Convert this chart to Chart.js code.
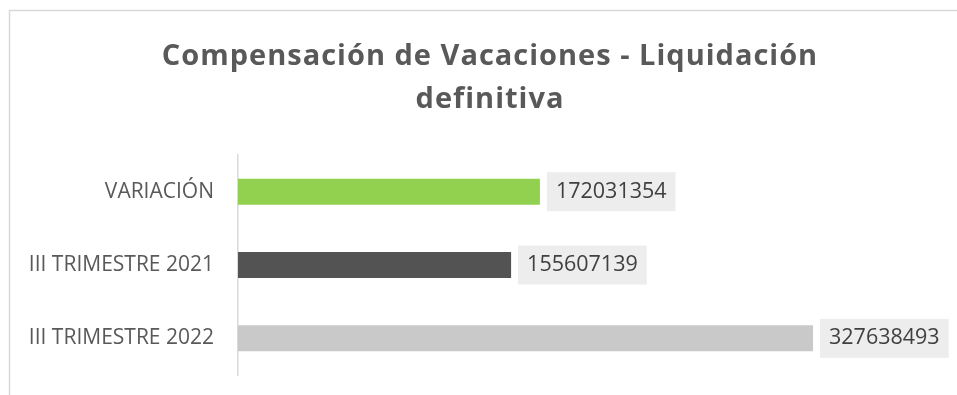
<!DOCTYPE html>
<html>
<head>
<meta charset="utf-8">
<script src="https://cdn.jsdelivr.net/npm/chart.js@4/dist/chart.umd.min.js"></script>
<style>
  html, body { margin: 0; padding: 0; background: #ffffff; overflow: hidden; }
  canvas { display: block; }
</style>
</head>
<body>
<canvas id="vacaciones" width="957" height="395"></canvas>
<script>
const titleLines = ["Compensación de Vacaciones - Liquidación", "definitiva"];
const categories = ["VARIACIÓN", "III TRIMESTRE 2021", "III TRIMESTRE 2022"];
const values = [172031354, 155607139, 327638493];
const barColors = ["#92d050", "#535353", "#c9c9c9"];
const axisMax = 400000000;

const FONT = "'Open Sans', sans-serif";

// frame, title and value boxes drawn straight onto the canvas
const chartDecor = {
  id: "chartDecor",
  beforeDraw(chart) {
    const ctx = chart.ctx;
    ctx.save();
    ctx.strokeStyle = "#d9d9d9";
    ctx.lineWidth = 1.5;
    ctx.beginPath();
    ctx.moveTo(9.5, chart.height);
    ctx.lineTo(9.5, 10.5);
    ctx.lineTo(chart.width, 10.5);
    ctx.stroke();

    ctx.fillStyle = "#595959";
    ctx.font = "bold 29px " + FONT;
    ctx.letterSpacing = "1px";
    ctx.textAlign = "center";
    ctx.textBaseline = "middle";
    titleLines.forEach((line, i) => {
      ctx.fillText(line, 490, 57 + i * 43);
    });
    ctx.restore();
  },
  afterDatasetsDraw(chart) {
    const ctx = chart.ctx;
    const meta = chart.getDatasetMeta(0);
    ctx.save();
    ctx.font = "21.5px " + FONT;
    ctx.textBaseline = "middle";
    ctx.textAlign = "left";
    meta.data.forEach((bar, i) => {
      const text = String(values[i]);
      const w = ctx.measureText(text).width;
      const bx = bar.x + 7;
      const by = bar.y - 19.5;
      ctx.fillStyle = "#ededed";
      ctx.fillRect(bx, by, w + 18, 39);
      ctx.fillStyle = "#404040";
      ctx.fillText(text, bx + 9, bar.y);
    });
    ctx.restore();
  },
};

new Chart(document.getElementById("vacaciones"), {
  type: "bar",
  data: {
    labels: categories,
    datasets: [
      {
        data: values,
        backgroundColor: barColors,
        borderWidth: 0,
        barPercentage: 1,
        categoryPercentage: 0.355,
      },
    ],
  },
  options: {
    indexAxis: "y",
    responsive: false,
    animation: false,
    layout: { autoPadding: false, padding: { top: 155, right: 17, bottom: 20, left: 0 } },
    plugins: {
      legend: { display: false },
      title: { display: false },
      tooltip: { enabled: false },
    },
    scales: {
      x: {
        display: false,
        min: 0,
        max: axisMax,
      },
      y: {
        grid: { display: false, drawTicks: false },
        border: { display: true, color: "#d9d9d9", width: 1.5 },
        ticks: {
          color: "#595959",
          padding: 24,
          font: { family: FONT, size: 21 },
        },
        afterFit(scale) {
          // fixed label column, no extra room asked above/below
          scale.width = 238;
          scale.paddingTop = 0;
          scale.paddingBottom = 0;
        },
      },
    },
  },
  plugins: [chartDecor],
});
</script>
</body>
</html>
